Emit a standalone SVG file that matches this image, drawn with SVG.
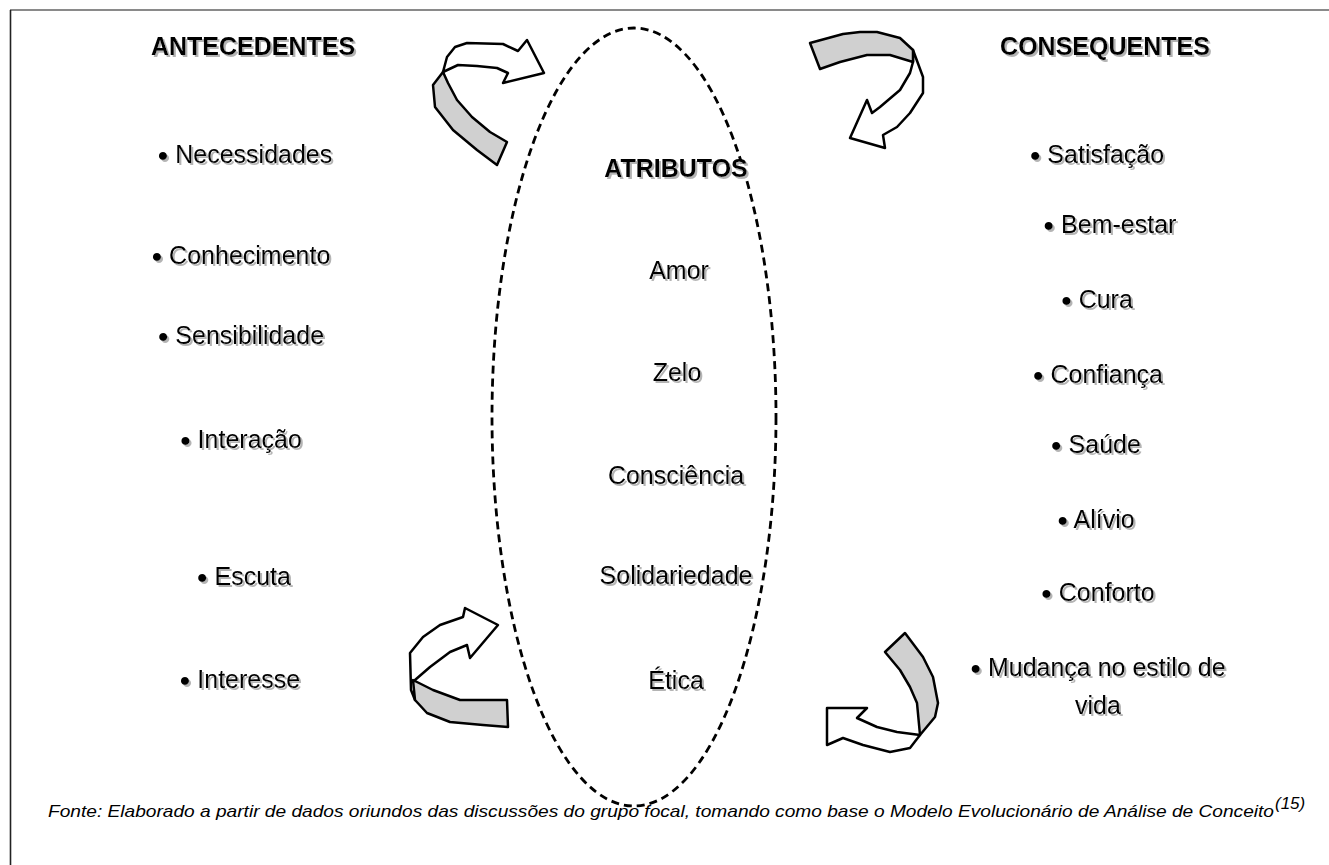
<svg xmlns="http://www.w3.org/2000/svg" width="1329" height="865" viewBox="0 0 1329 865">
  <defs>
    <filter id="shadow" x="-10%" y="-20%" width="130%" height="160%">
      <feOffset in="SourceAlpha" dx="2" dy="2" result="off"/>
      <feGaussianBlur in="off" stdDeviation="0.6" result="blur"/>
      <feFlood flood-color="#b4b4b4"/>
      <feComposite in2="blur" operator="in" result="sh"/>
      <feMerge><feMergeNode in="sh"/><feMergeNode in="SourceGraphic"/></feMerge>
    </filter>
    <style>
      .hdr { font-family: "Liberation Sans", Arial, sans-serif; font-size: 25px; font-weight: bold; fill: #000; text-anchor: middle; filter: url(#shadow); }
      .item { font-family: "Liberation Sans", Arial, sans-serif; font-size: 25px; fill: #000; text-anchor: middle; filter: url(#shadow); }
      .b { font-size: 30px; baseline-shift: -3px; }
      .note { font-family: "Liberation Sans", Arial, sans-serif; font-size: 17px; font-style: italic; fill: #000; }
      .white { fill: #fff; stroke: #000; stroke-width: 2.5; stroke-linejoin: round; }
      .gray { fill: #d0d0d0; stroke: #000; stroke-width: 2.5; stroke-linejoin: round; }
    </style>
  </defs>
  <rect width="1329" height="865" fill="#fff"/>
  <line x1="10" y1="10" x2="1329" y2="10" stroke="#8a8a8a" stroke-width="2"/>
  <line x1="10.5" y1="10" x2="10.5" y2="865" stroke="#222" stroke-width="1.6"/>

  <g id="ellipse">
    <ellipse cx="634" cy="417" rx="142" ry="389" fill="none" stroke="#000" stroke-width="2.8" stroke-dasharray="8 5"/>
  </g>

  <g id="connectors">
    <!-- top-left arrow -->
    <path class="white" d="M443,72 L447,57 L455,47 L467,43 L503,44 L518,51 L527,40 L544,73 L503,83 L508,73 L497,68 L477,66 L458,65 Z"/>
    <path class="gray" d="M443,72 L433,85 L435,107 L453,130 L477,150 L497,165 L507,142 L490,132 L472,117 L457,100 L448,83 Z"/>
    <!-- top-right arrow -->
    <path class="white" d="M913,50 L923,77 L923,93 L910,113 L897,127 L883,135 L885,148 L850,138 L867,100 L872,113 L880,107 L900,90 L910,73 L913,62 Z"/>
    <path class="gray" d="M810,43 L843,34 L860,32 L877,32 L900,38 L913,50 L913,62 L890,55 L867,55 L840,62 L820,69 Z"/>
    <!-- bottom-left arrow -->
    <path class="white" d="M415,700 L411,690 L410,653 L423,637 L440,625 L463,617 L465,608 L498,625 L470,658 L467,645 L450,652 L430,667 L415,680 Z"/>
    <path class="gray" d="M413,680 L433,690 L460,700 L507,700 L508,727 L483,725 L450,722 L427,713 L415,700 Z"/>
    <!-- bottom-right arrow -->
    <path class="white" d="M920,735 L910,748 L890,752 L863,745 L843,738 L827,745 L827,708 L867,708 L857,718 L877,727 L897,732 Z"/>
    <path class="gray" d="M885,652 L905,633 L923,657 L933,677 L938,703 L935,717 L920,735 L917,703 L910,687 L900,670 Z"/>
  </g>

  <g id="antecedentes">
    <text class="hdr" x="253" y="55">ANTECEDENTES</text>
    <text class="item" x="245" y="163"><tspan class="b">•</tspan> Necessidades</text>
    <text class="item" x="241" y="264"><tspan class="b">•</tspan> Conhecimento</text>
    <text class="item" x="241" y="344"><tspan class="b">•</tspan> Sensibilidade</text>
    <text class="item" x="241" y="448"><tspan class="b">•</tspan> Interação</text>
    <text class="item" x="244" y="585"><tspan class="b">•</tspan> Escuta</text>
    <text class="item" x="240" y="688"><tspan class="b">•</tspan> Interesse</text>
  </g>

  <g id="atributos">
    <text class="hdr" x="676" y="177">ATRIBUTOS</text>
    <text class="item" x="679" y="279">Amor</text>
    <text class="item" x="677" y="381">Zelo</text>
    <text class="item" x="676" y="484">Consciência</text>
    <text class="item" x="676" y="584">Solidariedade</text>
    <text class="item" x="676" y="689">Ética</text>
  </g>

  <g id="consequentes">
    <text class="hdr" x="1105" y="55">CONSEQUENTES</text>
    <text class="item" x="1097" y="163"><tspan class="b">•</tspan> Satisfação</text>
    <text class="item" x="1110" y="233"><tspan class="b">•</tspan> Bem-estar</text>
    <text class="item" x="1097" y="308"><tspan class="b">•</tspan> Cura</text>
    <text class="item" x="1098" y="383"><tspan class="b">•</tspan> Confiança</text>
    <text class="item" x="1096" y="453"><tspan class="b">•</tspan> Saúde</text>
    <text class="item" x="1096" y="528"><tspan class="b">•</tspan> Alívio</text>
    <text class="item" x="1098" y="601"><tspan class="b">•</tspan> Conforto</text>
    <text class="item" x="1098" y="676"><tspan class="b">•</tspan> Mudança no estilo de</text>
    <text class="item" x="1098" y="714">vida</text>
  </g>

  <g id="fonte">
    <text class="note" x="48" y="817" textLength="1226" lengthAdjust="spacingAndGlyphs">Fonte: Elaborado a partir de dados oriundos das discussões do grupo focal, tomando como base o Modelo Evolucionário de Análise de Conceito</text>
    <text class="note" x="1275" y="809" font-size="10">(15)</text>
  </g>
</svg>
